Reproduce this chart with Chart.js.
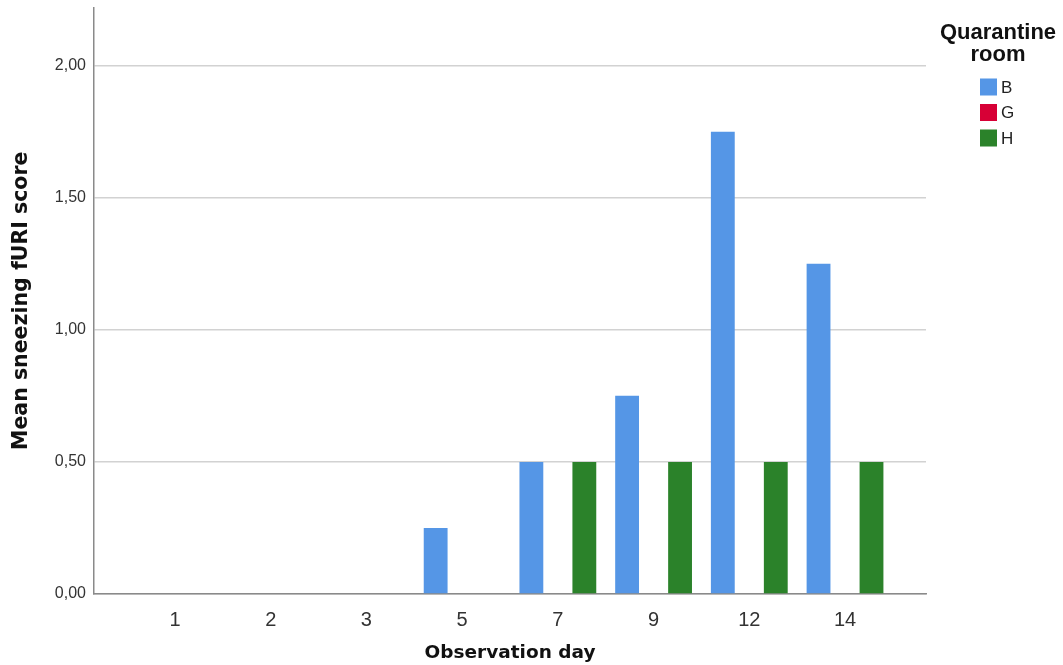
<!DOCTYPE html>
<html>
<head>
<meta charset="utf-8">
<script src="https://cdn.jsdelivr.net/npm/chart.js@4/dist/chart.umd.min.js"></script>
<style>
  html, body { margin: 0; padding: 0; background: #fff; }
  #wrap { width: 1063px; height: 665px; }
</style>
</head>
<body>
<div id="wrap"><canvas id="mycanvas" width="1063" height="665"></canvas></div>
<script>
// observation days (x categories)
const days = ['1', '2', '3', '5', '7', '9', '12', '14'];

// mean sneezing fURI score per quarantine room
const roomB = [0, 0, 0, 0.25, 0.5, 0.75, 1.75, 1.25];
const roomG = [0, 0, 0, 0, 0, 0, 0, 0];
const roomH = [0, 0, 0, 0, 0.5, 0.5, 0.5, 0.5];

const yTicks = [0, 0.5, 1, 1.5, 2];

const FONT = "'Liberation Sans', Arial, sans-serif";
const TFONT = "'DejaVu Sans', Verdana, sans-serif";

// day index -> {x, y} so the x scale can be a padded linear axis
function pts(arr) {
  return arr.map((v, i) => ({ x: i, y: v }));
}

// draws the "Quarantine room" legend at the right
const sideLegend = {
  id: 'sideLegend',
  afterDraw(chart) {
    const ctx = chart.ctx;
    const cx = 998;
    ctx.save();
    ctx.fillStyle = '#111';
    ctx.font = 'bold 22px ' + FONT;
    ctx.textAlign = 'center';
    ctx.textBaseline = 'middle';
    ctx.fillText('Quarantine', cx, 33);
    ctx.fillText('room', cx, 55);

    ctx.font = '17px ' + FONT;
    ctx.textAlign = 'left';
    chart.data.datasets.forEach((ds, i) => {
      const y = 87 + i * 25.5;
      ctx.fillStyle = ds.backgroundColor;
      ctx.fillRect(980, y - 8.5, 17, 17);
      ctx.fillStyle = '#222';
      ctx.fillText(ds.label, 1001, y + 1);
    });
    ctx.restore();
  }
};

var ctx = document.getElementById('mycanvas').getContext('2d');

var barGraph = new Chart(ctx, {
  type: 'bar',
  data: {
    datasets: [
      { label: 'B', data: pts(roomB), backgroundColor: '#5596e6' },
      { label: 'G', data: pts(roomG), backgroundColor: '#d70036' },
      { label: 'H', data: pts(roomH), backgroundColor: '#2b822a' }
    ]
  },
  options: {
    responsive: false,
    animation: false,
    devicePixelRatio: 1,
    categoryPercentage: 0.83,
    barPercentage: 0.9,
    layout: {
      padding: { top: 7.5, right: 137, left: 0, bottom: 0 }
    },
    plugins: {
      legend: { display: false },
      tooltip: { enabled: false }
    },
    scales: {
      x: {
        type: 'linear',
        min: -0.846,
        max: 7.846,
        offset: false,
        afterBuildTicks: (scale) => {
          scale.ticks = days.map((d, i) => ({ value: i }));
        },
        afterFit: (scale) => {
          scale.height = 71;
          scale.paddingLeft = 0;
          scale.paddingRight = 0;
        },
        grid: { display: false },
        border: { display: true, color: '#8a8a8a', width: 1.5 },
        ticks: {
          padding: 6,
          color: '#333',
          font: { family: FONT, size: 20 },
          callback: (v) => days[v]
        },
        title: {
          display: true,
          text: 'Observation day',
          color: '#111',
          font: { family: TFONT, size: 18.5, weight: 'bold' },
          padding: { top: 0, bottom: 1 }
        }
      },
      y: {
        min: 0,
        max: 2.22,
        afterBuildTicks: (scale) => {
          scale.ticks = yTicks.map(v => ({ value: v }));
        },
        afterFit: (scale) => {
          scale.width = 94;
          scale.paddingTop = 0;
          scale.paddingBottom = 0;
        },
        grid: { color: '#d2d2d2', lineWidth: 1.5, drawTicks: false },
        border: { display: true, color: '#8a8a8a', width: 1.5 },
        ticks: {
          padding: 8,
          color: '#333',
          font: { family: FONT, size: 16 },
          callback: (v) => v.toFixed(2).replace('.', ',')
        },
        title: {
          display: true,
          text: 'Mean sneezing fURI score',
          color: '#111',
          font: { family: TFONT, size: 20.5, weight: 'bold' },
          padding: { top: 9, bottom: 0 }
        }
      }
    }
  },
  plugins: [sideLegend]
});
</script>
</body>
</html>
